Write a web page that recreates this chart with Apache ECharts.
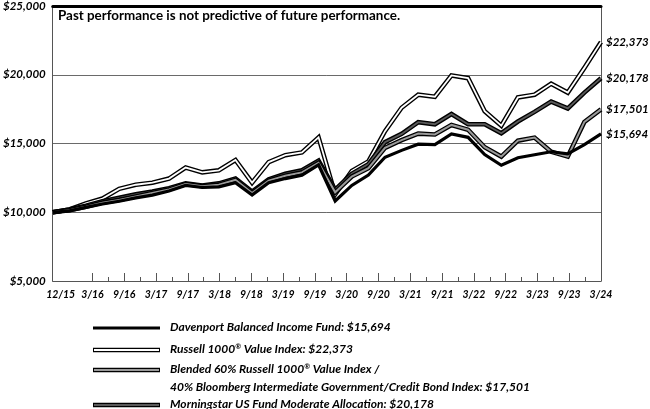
<!DOCTYPE html>
<html><head><meta charset="utf-8">
<script src="https://cdn.jsdelivr.net/npm/echarts@6/dist/echarts.min.js"></script>
<style>html,body{margin:0;padding:0;background:#fff}#c{width:650px;height:409px}</style>
</head><body><div id="c"></div>
<script>
// Quarter-end dates (data points)
const dates = ['12/15','3/16','6/16','9/16','12/16','3/17','6/17','9/17','12/17','3/18','6/18','9/18','12/18','3/19','6/19','9/19','12/19','3/20','6/20','9/20','12/20','3/21','6/21','9/21','12/21','3/22','6/22','9/22','12/22','3/23','6/23','9/23','12/23','3/24'];
// Series values (growth of $10,000)
const davenport   = [10000,10100,10350,10600,10800,11050,11250,11550,11950,11800,11850,12150,11250,12150,12450,12700,13450,10820,11950,12700,14000,14500,14950,14920,15700,15450,14200,13420,13960,14180,14400,14250,14920,15700];
const russell     = [10000,10200,10650,11000,11700,12000,12150,12450,13250,12900,13050,13800,12150,13650,14150,14350,15450,11300,13000,13700,15900,17600,18550,18400,19950,19750,17350,16300,18350,18550,19350,18700,20500,22373];
const blended     = [10000,10150,10400,10700,10900,11150,11400,11650,12050,11900,12000,12350,11400,12300,12650,12900,13600,11450,12600,13200,14680,15250,15720,15660,16350,16000,14730,14050,15210,15430,14400,14050,16570,17480];
const morningstar = [10000,10200,10480,10800,11050,11300,11500,11750,12100,11950,12100,12450,11500,12400,12800,13050,13750,11650,12800,13500,15100,15700,16550,16400,17150,16400,16400,15750,16600,17300,18050,17550,18700,19750];
// End-of-line labels
const endLabels = {dav:'$15,694', rus:'$22,373', ble:'$17,501', mor:'$20,178'};
// X-axis tick labels (as printed on the reference axis)
const tickLabels = ['12/15','3/16','9/16','3/17','9/17','3/18','9/18','3/19','9/19','3/20','9/20','3/21','9/21','3/22','9/22','3/23','9/23','3/24'];
// Y-axis
const yMin = 5000, yMax = 25000, yStep = 5000;
// Legend entries
const legendText = [
  ['Davenport Balanced Income Fund: $15,694'],
  ['Russell 1000® Value Index: $22,373'],
  ['Blended 60% Russell 1000® Value Index /', '40% Bloomberg Intermediate Government/Credit Bond Index: $17,501'],
  ['Morningstar US Fund Moderate Allocation: $20,178']
];
const title = 'Past performance is not predictive of future performance.';

const FONT = 'Lato';
const labelFont = {fontFamily:FONT, fontWeight:'bold', fontStyle:'italic', fontSize:11.5, color:'#000'};

// tick-axis positions: label j sits at 2j-2 (12/15 first, then semi-annual labels from 0)
const labelPos = tickLabels.map((t,j)=>2*j-2);
const majorTicks = labelPos.filter(v=>v>=0);
const minorTicks = majorTicks.slice(0,-1).map(v=>v+1);
const tickMin = -2.5, tickMax = 32;

const chart = echarts.init(document.getElementById('c'), null, {renderer:'canvas'});

function lineSeries(data, color, width, z, endKey){
  const s = {type:'line', data:data, xAxisIndex:0, yAxisIndex:0, symbol:'none', z:z,
    lineStyle:{color:color, width:width, join:'miter'}, silent:true, animation:false};
  if(endKey){
    s.endLabel = Object.assign({show:true, distance:5, formatter:()=>endLabels[endKey]}, labelFont);
  }
  return s;
}

const rich = (line)=>{
  const parts = line.split('®');
  return parts.map(p=>'{a|'+p+'}').join('{s|®}');
};
const richStyle = {
  a:{fontFamily:FONT, fontWeight:'bold', fontStyle:'italic', fontSize:12, fill:'#000'},
  s:{fontFamily:FONT, fontWeight:'bold', fontStyle:'italic', fontSize:7, fill:'#000', verticalAlign:'top'}
};

const rowY = [327, 349, 369, 404];
const legendStyles = [
  {outer:'#000', outerW:3.2, inner:null},
  {outer:'#000', outerW:4.6, inner:'#fff', innerW:1.8},
  {outer:'#000', outerW:4.6, inner:'#9a9a9a', innerW:2},
  {outer:'#000', outerW:4.6, inner:'#5a5a5a', innerW:1.8}
];
const graphics = [];
graphics.push({type:'text', x:58, y:16, style:{text:title, fontFamily:FONT, fontWeight:'bold', fontSize:13.4, fill:'#000', textVerticalAlign:'middle'}});
legendText.forEach((lines,i)=>{
  const st = legendStyles[i];
  graphics.push({type:'line', shape:{x1:93,y1:rowY[i]+1,x2:160,y2:rowY[i]+1}, style:{stroke:st.outer, lineWidth:st.outerW}});
  if(st.inner) graphics.push({type:'line', shape:{x1:94,y1:rowY[i]+1,x2:159,y2:rowY[i]+1}, style:{stroke:st.inner, lineWidth:st.innerW}});
  lines.forEach((ln,k)=>{
    graphics.push({type:'text', x:170, y:rowY[i]+k*18, style:{text:rich(ln), rich:richStyle, textVerticalAlign:'middle'}});
  });
});

const option = {
  animation:false,
  backgroundColor:'#fff',
  grid:{left:50, right:49, top:4, bottom:128, containLabel:false},
  xAxis:[
    {type:'category', data:dates, boundaryGap:false, show:false},
    {type:'value', min:tickMin, max:tickMax, position:'bottom',
     axisLine:{show:true, onZero:false, lineStyle:{color:'#555', width:1}},
     axisTick:{show:true, inside:true, length:8, customValues:majorTicks, lineStyle:{color:'#555'}},
     axisLabel:Object.assign({show:true, margin:8, customValues:labelPos,
       formatter:(v)=>{const j=Math.round((v+2)/2); return tickLabels[j]||'';}}, labelFont, {fontSize:10.5}),
     splitLine:{show:false}},
    {type:'value', min:tickMin, max:tickMax, position:'bottom',
     axisLine:{show:false, onZero:false},
     axisTick:{show:true, inside:true, length:4, customValues:minorTicks, lineStyle:{color:'#555'}},
     axisLabel:{show:false}, splitLine:{show:false}},
    {type:'value', min:0, max:1, position:'top',
     axisLine:{show:true, onZero:false, lineStyle:{color:'#000', width:3}},
     axisTick:{show:false}, axisLabel:{show:false}, splitLine:{show:false}}
  ],
  yAxis:[
    {type:'value', min:yMin, max:yMax, interval:yStep,
     axisLine:{show:true, onZero:false, lineStyle:{color:'#555'}},
     axisTick:{show:false},
     axisLabel:Object.assign({margin:7, formatter:(v)=>'$'+v.toLocaleString('en-US')}, labelFont),
     splitLine:{show:true, lineStyle:{color:'#6a6a6a', width:1}}},
    {type:'value', min:yMin, max:yMax, position:'right',
     axisLine:{show:true, onZero:false, lineStyle:{color:'#555'}},
     axisTick:{show:false}, axisLabel:{show:false}, splitLine:{show:false}}
  ],
  series:[
    lineSeries(russell, '#000', 4.6, 2),
    lineSeries(russell, '#fff', 1.8, 2, 'rus'),
    lineSeries(morningstar, '#000', 4.6, 2),
    lineSeries(morningstar, '#5a5a5a', 1.8, 2, 'mor'),
    lineSeries(blended, '#000', 4.6, 2),
    lineSeries(blended, '#9a9a9a', 2, 2, 'ble'),
    lineSeries(davenport, '#000', 3.2, 2, 'dav')
  ],
  graphic:graphics
};
chart.setOption(option);
</script>
</body></html>
